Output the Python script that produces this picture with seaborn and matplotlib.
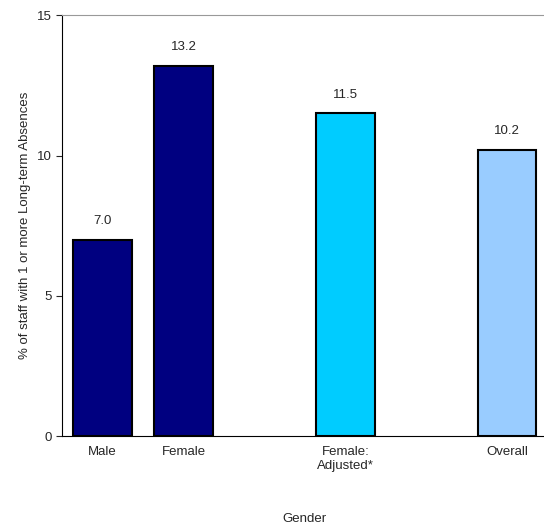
import matplotlib
matplotlib.use("Agg")
import matplotlib.pyplot as plt
import seaborn as sns
import pandas as pd

categories = ["Male", "Female", "Female:\nAdjusted*", "Overall"]
positions = [0, 1, 3, 5]
values = [7.0, 13.2, 11.5, 10.2]
colors = ["#000080", "#000080", "#00CCFF", "#99CCFF"]

df = pd.DataFrame({"pos": positions, "val": values, "cat": categories})
sns.set_style("white")
plt.rcParams['font.family'] = ['Liberation Sans', 'DejaVu Sans']
fig = plt.figure(figsize=(5.44, 5.26), dpi=100)
ax = fig.add_axes([0.114, 0.171, 0.893, 0.8])
sns.barplot(data=df, x="pos", y="val", hue="cat", palette=dict(zip(categories, colors)),
            native_scale=True, width=0.72, edgecolor="black", linewidth=1.5,
            saturation=1, legend=False, ax=ax)
for p, v in zip(positions, values):
    ax.text(p, v + 0.45, f"{v:.1f}", ha="center", va="bottom", fontsize=9.5)
ax.set_xlim(-0.5, 5.5)
ax.set_ylim(0, 15)
ax.set_yticks([0, 5, 10, 15])
ax.set_xticks(positions)
ax.set_xticklabels(categories, fontsize=9.5)
ax.tick_params(axis="y", labelsize=9.5, left=True, length=4)
ax.tick_params(axis="x", bottom=False)
ax.set_xlabel("Gender", fontsize=9.5, labelpad=30)
ax.set_ylabel("% of staff with 1 or more Long-term Absences", fontsize=9.5)
for s in ["left", "bottom"]:
    ax.spines[s].set_color("black")
ax.spines["top"].set_color("#999999")
ax.spines["right"].set_visible(False)
fig.savefig("out.png", dpi=100)
